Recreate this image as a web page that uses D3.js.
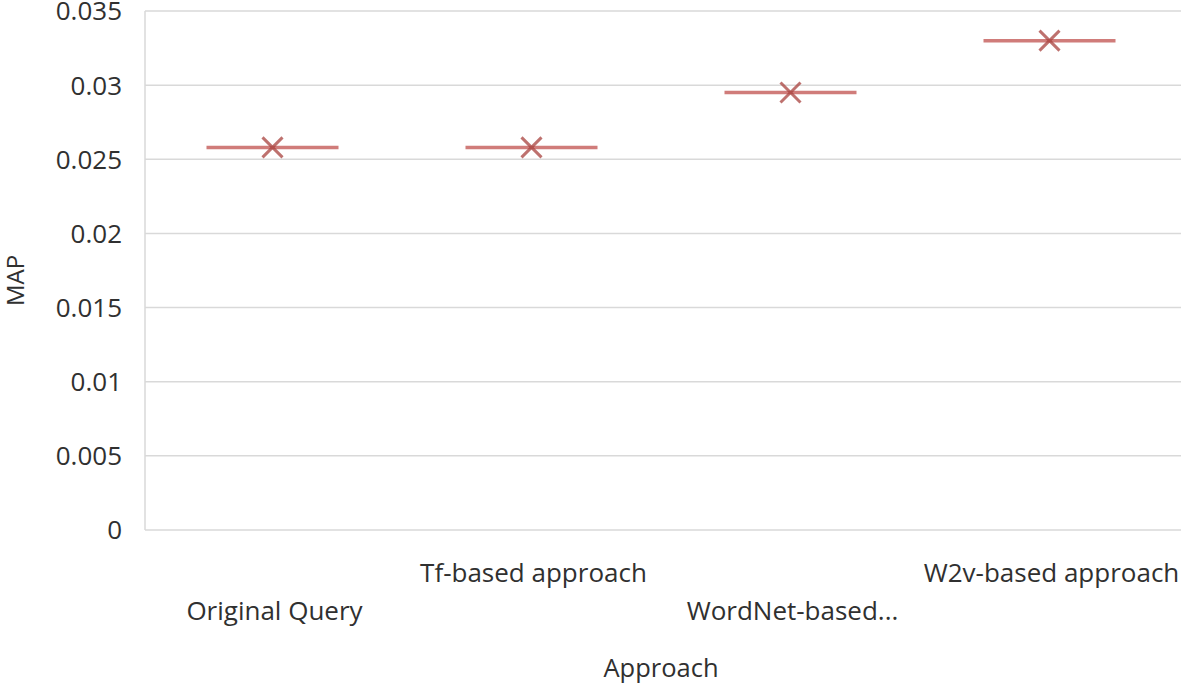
<!DOCTYPE html>
<html>
<head>
<meta charset="utf-8">
<script src="https://cdn.jsdelivr.net/npm/d3@7"></script>
<style>
  body { margin: 0; background: #fff; }
  text { font-family: "Open Sans", "Noto Sans", sans-serif; fill: #303030; }
</style>
</head>
<body>
<svg id="chart" width="1181" height="684"></svg>
<script>
var categories = ["Original Query", "Tf-based approach", "WordNet-based...", "W2v-based approach"];
var map_values = [0.0258, 0.0258, 0.0295, 0.0330];
var y_ticks = [0, 0.005, 0.01, 0.015, 0.02, 0.025, 0.03, 0.035];
var y_tick_labels = ["0", "0.005", "0.01", "0.015", "0.02", "0.025", "0.03", "0.035"];

var svg = d3.select("#chart");
var margin = {left: 145, right: 0, top: 11, bottom: 154};
var width = 1181 - margin.left - margin.right;
var height = 684 - margin.top - margin.bottom;

var x = d3.scaleBand().domain(categories).range([margin.left, margin.left + width]);
var y = d3.scaleLinear().domain([0, 0.035]).range([margin.top + height, margin.top]);

// gridlines
svg.append("g")
    .selectAll("line")
    .data(y_ticks)
    .enter()
    .append("line")
    .attr("x1", margin.left)
    .attr("x2", margin.left + width)
    .attr("y1", function (d) { return y(d); })
    .attr("y2", function (d) { return y(d); })
    .attr("stroke", "#d9d9d9")
    .attr("stroke-width", 1.5);

// left axis line
svg.append("line")
    .attr("x1", margin.left).attr("x2", margin.left)
    .attr("y1", y(0)).attr("y2", y(0.035))
    .attr("stroke", "#d9d9d9")
    .attr("stroke-width", 1.5);

// y tick labels
svg.append("g")
    .selectAll("text")
    .data(y_ticks)
    .enter()
    .append("text")
    .attr("x", 122)
    .attr("y", function (d) { return y(d); })
    .attr("dy", "0.36em")
    .attr("text-anchor", "end")
    .style("font-size", "26px")
    .text(function (d, i) { return y_tick_labels[i]; });

// x category labels, staggered like the original
svg.append("g")
    .selectAll("text")
    .data(categories)
    .enter()
    .append("text")
    .attr("x", function (d) { return x(d) + x.bandwidth() / 2; })
    .attr("y", function (d, i) { return i % 2 === 0 ? 620 : 582; })
    .attr("text-anchor", "middle")
    .style("font-size", "26px")
    .text(function (d) { return d; });

// axis titles
svg.append("text")
    .attr("x", 661).attr("y", 677)
    .attr("text-anchor", "middle")
    .style("font-size", "25.5px")
    .text("Approach");

svg.append("text")
    .attr("transform", "translate(24," + (margin.top + height / 2 + 10) + ") rotate(-90)")
    .attr("text-anchor", "middle")
    .style("font-size", "24px")
    .text("MAP");

// markers: horizontal line + x
var half = 66;
var marks = svg.append("g").attr("class", "marks");
categories.forEach(function (c, i) {
    var cx = x(c) + x.bandwidth() / 2 - 2;
    var cy = y(map_values[i]);
    marks.append("line")
        .attr("x1", cx - half).attr("x2", cx + half)
        .attr("y1", cy).attr("y2", cy)
        .attr("stroke", "#c0504d").attr("stroke-opacity", 0.75)
        .attr("stroke-width", 3.5);
    marks.append("path")
        .attr("d", "M" + (cx - 10) + "," + (cy - 10) + "L" + (cx + 10) + "," + (cy + 10) +
                   "M" + (cx - 10) + "," + (cy + 10) + "L" + (cx + 10) + "," + (cy - 10))
        .attr("stroke", "#a8413e").attr("stroke-opacity", 0.75)
        .attr("stroke-width", 3);
});
</script>
</body>
</html>
